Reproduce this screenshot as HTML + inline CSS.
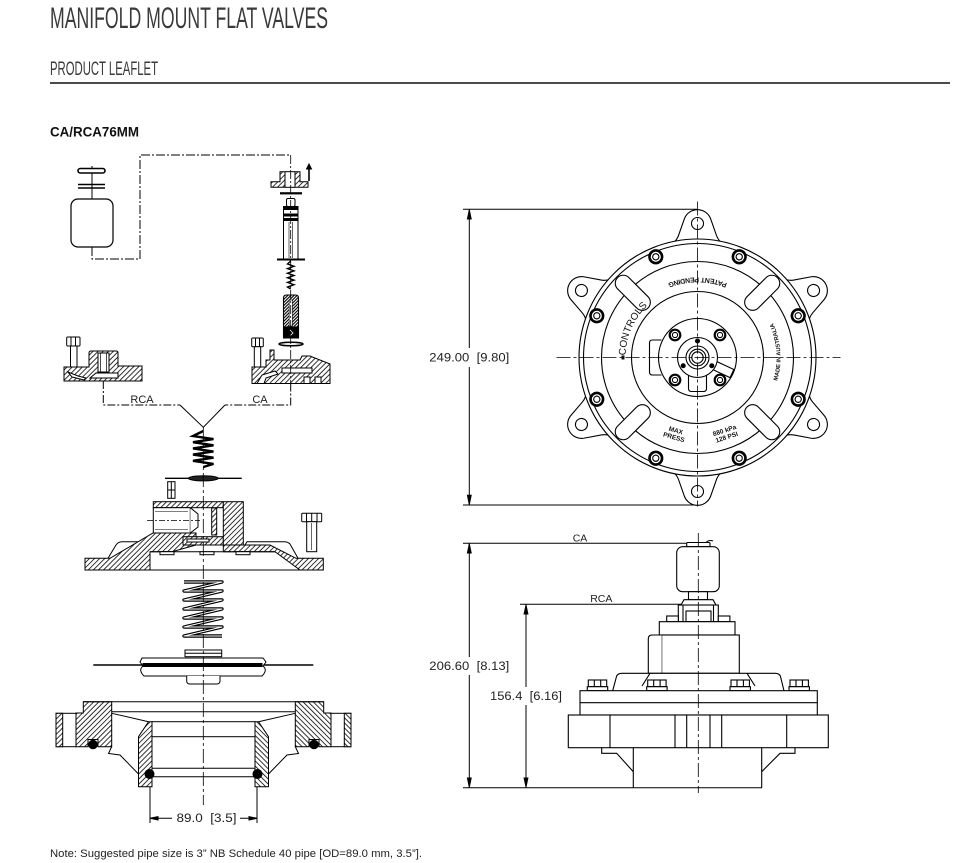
<!DOCTYPE html>
<html><head><meta charset="utf-8"><style>
html,body{margin:0;padding:0;background:#fff;}
svg{display:block;}
</style></head><body>
<svg width="968" height="863" viewBox="0 0 968 863" xmlns="http://www.w3.org/2000/svg" font-family="'Liberation Sans', sans-serif">
<defs>
 <pattern id="h" width="3.6" height="3.6" patternUnits="userSpaceOnUse" patternTransform="rotate(45)">
  <rect width="3.6" height="3.6" fill="#fff"/>
  <line x1="1" y1="0" x2="1" y2="3.6" stroke="#000" stroke-width="0.8"/>
 </pattern>
 <pattern id="hd" width="2.2" height="2.2" patternUnits="userSpaceOnUse" patternTransform="rotate(45)">
  <rect width="2.2" height="2.2" fill="#fff"/>
  <line x1="1" y1="0" x2="1" y2="2.2" stroke="#000" stroke-width="1.1"/>
 </pattern>
 <path id="pb" d="M-80,0 A80,80 0 0 0 80,0"/>
 <path id="cl" d="M0,72 A72,72 0 1 1 0,-72 A72,72 0 1 1 0,72"/>
 <path id="mr" d="M0,83 A83,83 0 1 0 0,-83 A83,83 0 1 0 0,83"/>
 <g id="lug">
  <path d="M-30,-112 Q-22,-114 -19,-122 L-13,-139 A14,14 0 0 1 13,-139 L19,-122 Q22,-114 30,-112" fill="#fff"/>
  <circle cx="0" cy="-134" r="6" fill="#fff"/>
 </g>
 <g id="bolt">
  <circle cx="0" cy="-109" r="6.3" stroke-width="2.6" fill="#fff"/>
  <circle cx="0" cy="-109" r="3.1" fill="#fff"/>
 </g>
 <g id="fb">
  <rect x="0" y="0" width="18.4" height="6.7" fill="#fff"/>
  <line x1="6" y1="0" x2="6" y2="6.7"/><line x1="12.4" y1="0" x2="12.4" y2="6.7"/>
  <rect x="-1" y="6.7" width="20.4" height="4" fill="#fff"/>
 </g>
</defs>

<!-- HEADER -->
<text x="50" y="28" font-size="30" fill="#3a3a3a" textLength="278" lengthAdjust="spacingAndGlyphs">MANIFOLD MOUNT FLAT VALVES</text>
<text x="50" y="75" font-size="19" fill="#3a3a3a" textLength="108" lengthAdjust="spacingAndGlyphs">PRODUCT LEAFLET</text>
<line x1="50" y1="83" x2="950" y2="83" stroke="#111" stroke-width="1.4"/>
<text x="50" y="136.5" font-size="14" font-weight="bold" fill="#111" textLength="89" lengthAdjust="spacingAndGlyphs">CA/RCA76MM</text>

<!-- LEFT EXPLODED VIEW -->
<g stroke="#000" stroke-width="1" fill="none">
 <path d="M92,247 V259 H140 V155 H290.7" stroke-dasharray="9 2 2 2"/>
 <line x1="92" y1="166" x2="92" y2="199"/>
 <rect x="78" y="168.5" width="27" height="4.5" rx="2.2" stroke-width="1.6" fill="#fff"/>
 <line x1="78" y1="184.5" x2="105" y2="184.5" stroke-width="1.6"/>
 <line x1="78" y1="188" x2="105" y2="188" stroke-width="1.6"/>
 <rect x="71" y="199" width="42" height="48" rx="7" fill="#fff" stroke-width="1.2"/>

 <path d="M271,187.3 V181.7 H280 V171.7 H285 V187.3 Z M295,187.3 V171.7 H300 V181.7 H308 V187.3 Z" fill="url(#h)"/>
 <line x1="285" y1="171.7" x2="295" y2="171.7"/>
 <line x1="285" y1="187.3" x2="295" y2="187.3"/>
 <line x1="309" y1="181" x2="309" y2="168" stroke-width="1.6"/>
 <path d="M306.5,169 L309,164 L311.5,169 Z" fill="#000"/>
 <rect x="280" y="192.2" width="22" height="2.2" fill="#000" stroke="none"/>

 <rect x="286.5" y="198.5" width="8.5" height="8" rx="1.5" fill="#fff"/>
 <rect x="283.5" y="206.5" width="14.5" height="53" fill="#fff"/>
 <rect x="283.5" y="207" width="14.5" height="2.5" fill="#000"/>
 <rect x="283.5" y="214" width="14.5" height="2" fill="#000"/>
 <rect x="283.5" y="218.5" width="14.5" height="2" fill="#000"/>
 <line x1="289" y1="222" x2="289" y2="258" stroke-width="0.6"/>
 <line x1="292.5" y1="222" x2="292.5" y2="258" stroke-width="0.6"/>
 <line x1="277" y1="259.5" x2="305" y2="259.5" stroke-width="2"/>

 <polyline points="290.7,261 287.5,264 294,266.3 287.5,268.6 294,270.9 287.5,273.2 294,275.5 287.5,277.8 294,280.1 287.5,282.4 294,284.7 287.5,287 290.7,289" stroke-width="1.4"/>

 <path d="M283.5,298 Q283.5,295 286.5,295 H295.5 Q298.5,295 298.5,298 V338 H283.5 Z" fill="url(#hd)" stroke-width="1.1"/>
 <rect x="289.2" y="300" width="3.2" height="26" fill="#fff" stroke-width="0.6"/>
 <rect x="283.5" y="327" width="15" height="11" fill="#000"/>
 <path d="M290,330 l3,3 l-3,3" stroke="#fff" stroke-width="0.8"/>
 <ellipse cx="291" cy="344" rx="12" ry="1.8" stroke-width="1.5" fill="#fff"/>

 <rect x="251.7" y="338" width="11.6" height="8.7" rx="1" fill="#fff"/>
 <line x1="255.5" y1="338" x2="255.5" y2="346.7"/><line x1="259.5" y1="338" x2="259.5" y2="346.7"/>
 <rect x="254.3" y="346.7" width="6.4" height="20.5" fill="#fff"/>
 <path d="M252,383.5 V367 H266 V360 H270 V350 H274 V360 H300 L302,356 H310 L330,364 V383.5 Z" fill="url(#h)"/>
 <path d="M257,383.5 L262,375 L275,371 L278,374 L266,378 L264,383.5 Z" fill="#fff"/>
 <rect x="282" y="368" width="30" height="5" fill="#fff"/>
 <rect x="304" y="377" width="6" height="6.5" fill="#fff"/>
 <rect x="315" y="377" width="6" height="6.5" fill="#fff"/>

 <rect x="66.7" y="337" width="13.3" height="9" rx="1" fill="#fff"/>
 <line x1="71" y1="337" x2="71" y2="346"/><line x1="75.5" y1="337" x2="75.5" y2="346"/>
 <rect x="70.5" y="346" width="6.5" height="21" fill="#fff"/>
 <path d="M64,381 V367 H89 V353 Q89,351 91,351 H116 Q118,351 118,353 V366 H142 V381 Z" fill="url(#h)"/>
 <rect x="98" y="353" width="11" height="19" fill="#fff"/>
 <line x1="100.5" y1="353" x2="100.5" y2="372" stroke-width="0.7"/>
 <line x1="106.5" y1="353" x2="106.5" y2="372" stroke-width="0.7"/>
 <path d="M90,378 H118 V373 H96 Z" fill="#fff"/>
 <path d="M68,372 L78,376 L86,378 L84,380 L72,377 Z" fill="#fff"/>

 <line x1="290.7" y1="155" x2="290.7" y2="383.5" stroke-dasharray="9 2 2 2" stroke-width="0.8"/>

 <path d="M103.3,381 V405 H180" stroke-dasharray="8 2 2 2"/>
 <path d="M290.7,383.5 V405 H225" stroke-dasharray="8 2 2 2"/>
 <path d="M180,405 L203.3,427.3 L225,405"/>

 <polyline points="203.3,431 193,436 213.5,439.1 193,442.2 213.5,445.3 193,448.4 213.5,451.5 193,454.6 213.5,457.7 193,460.8 213.5,463.9 203.3,467" stroke-width="2.4"/>

 <line x1="165" y1="478.3" x2="241.7" y2="478.3" stroke-width="1.4"/>
 <ellipse cx="203.3" cy="478.3" rx="15" ry="2.6" fill="#222"/>
 <rect x="167.7" y="481.7" width="7.3" height="16.6" fill="#fff"/>
 <line x1="171.3" y1="481.7" x2="171.3" y2="498.3"/>
 <line x1="167.7" y1="490" x2="175" y2="490"/>

 <path d="M108,558.3 L116,545 Q118,541.7 122,541.7 H153" fill="#fff"/>
 <path d="M245,545 L247,541.7 H284 Q288,541.7 290,544 L298,558.3" fill="#fff"/>
 <path d="M85,570 H150 V551.7 H172 L196,545 V533 H153 L110,558.3 H85 Z" fill="url(#h)"/>
 <rect x="153.3" y="501.7" width="70" height="6" fill="url(#h)"/>
 <rect x="153.3" y="507.7" width="37" height="25.3" fill="#fff"/>
 <path d="M190.3,507.7 L198,514 L198,527 L190.3,533" fill="#fff"/>
 <line x1="155" y1="511.5" x2="188" y2="511.5" stroke-width="0.6"/>
 <line x1="155" y1="529.5" x2="188" y2="529.5" stroke-width="0.6"/>
 <line x1="147" y1="520.5" x2="200" y2="520.5" stroke-dasharray="6 2 2 2" stroke-width="0.7"/>
 <rect x="211.7" y="508" width="5" height="27" fill="url(#h)"/>
 <rect x="183" y="536.7" width="40.3" height="8.3" fill="url(#h)"/>
 <rect x="187" y="539" width="22" height="3" fill="#fff"/>
 <rect x="223.3" y="501.7" width="20" height="43.3" fill="url(#h)"/>
 <path d="M243.3,545 H270 L296,558.3 H323.3 V570 H300 L275,551.7 H223.3 V545 Z" fill="url(#h)"/>
 <line x1="85" y1="570" x2="323.3" y2="570"/>
 <line x1="150" y1="551.7" x2="275" y2="551.7"/>
 <rect x="160" y="551.7" width="14" height="3" fill="#fff"/>
 <rect x="200" y="551.7" width="14" height="3" fill="#fff"/>
 <rect x="236" y="551.7" width="14" height="3" fill="#fff"/>

 <rect x="301.7" y="513.3" width="20" height="8.4" rx="1" fill="#fff"/>
 <line x1="306.5" y1="513.3" x2="306.5" y2="521.7"/><line x1="311.7" y1="513.3" x2="311.7" y2="521.7"/><line x1="317" y1="513.3" x2="317" y2="521.7"/>
 <rect x="306.7" y="521.7" width="10" height="30" fill="#fff"/>
 <line x1="311.7" y1="523" x2="311.7" y2="550" stroke-width="0.6"/>

 <path d="M184,582 H222 L184,591 H222 L184,600 H222 L184,609 H222 L184,618 H222 L184,627 H222 L184,636 H222" stroke-width="3.4" stroke-linejoin="round"/>
 <path d="M184,582 H222 L184,591 H222 L184,600 H222 L184,609 H222 L184,618 H222 L184,627 H222 L184,636 H222" stroke="#fff" stroke-width="1.1" stroke-linejoin="round"/>

 <line x1="93.3" y1="665" x2="313.3" y2="665" stroke-width="1.4"/>
 <path d="M142,658 H263 L266,662 L263,666 Q268,670 262,676 H144 Q138,670 143,666 L140,662 Z" fill="#fff"/>
 <rect x="143" y="663.5" width="119" height="3" fill="#000"/>
 <rect x="185" y="650" width="36.7" height="6.7" fill="#fff"/>
 <line x1="185" y1="653.3" x2="221.7" y2="653.3"/>
 <path d="M186.7,676 V681 Q186.7,684 190,684 H216.7 Q220,684 220,681 V676" fill="#fff"/>

 <g id="vb">
  <path d="M83.3,701.7 H111.7 V746.7 H98 V739.5 H88 V746.7 H76 V713 H83.3 Z" fill="url(#h)"/>
  <circle cx="93" cy="744.5" r="4.3" fill="#000"/>
  <rect x="56" y="713.3" width="20" height="33.4"/>
  <rect x="56" y="713.3" width="6.7" height="33.4" fill="url(#h)"/>
  <line x1="111.7" y1="713.3" x2="148.5" y2="721.7"/>
  <path d="M111.7,746.7 L108.5,753.5 L120,755 L138.5,774"/>
  <path d="M138.5,736.7 L148.5,721.7 H152 V786.7 H138.5 Z" fill="url(#h)"/>
  <circle cx="149.5" cy="774" r="4.5" fill="#000"/>
  <line x1="150" y1="786.7" x2="150" y2="823"/>
 </g>
 <use href="#vb" transform="translate(407,0) scale(-1,1)"/>
 <line x1="83.3" y1="701.7" x2="323.7" y2="701.7"/>
 <line x1="111.7" y1="711.7" x2="295.3" y2="711.7"/>
 <rect x="152" y="721.7" width="103" height="15"/>
 <line x1="152" y1="768.3" x2="255" y2="768.3"/>
 <line x1="152" y1="776.7" x2="255" y2="776.7"/>

 <line x1="203.3" y1="427" x2="203.3" y2="805" stroke-dasharray="14 3 3 3" stroke-width="0.8"/>

 <line x1="150" y1="818.3" x2="172" y2="818.3"/>
 <line x1="240" y1="818.3" x2="257" y2="818.3"/>
 <path d="M150,818.3 L158,816.6 L158,820 Z" fill="#000"/>
 <path d="M257,818.3 L249,816.6 L249,820 Z" fill="#000"/>
</g>
<g fill="#222" font-size="11">
 <text x="142" y="403" text-anchor="middle">RCA</text>
 <text x="260" y="403" text-anchor="middle">CA</text>
 <text x="206.5" y="822" text-anchor="middle" font-size="11.5" textLength="60" lengthAdjust="spacingAndGlyphs" xml:space="preserve">89.0&#160;&#160;[3.5]</text>
</g>

<!-- TOP VIEW -->
<g stroke="#000" stroke-width="1" fill="none">
 <line x1="463" y1="209.3" x2="697" y2="209.3"/>
 <line x1="463" y1="505" x2="697" y2="505"/>
 <line x1="469.3" y1="209.3" x2="469.3" y2="348"/>
 <line x1="469.3" y1="367" x2="469.3" y2="505"/>
 <path d="M469.3,209.8 L467.4,219 L471.2,219 Z" fill="#000"/>
 <path d="M469.3,504.5 L467.4,495.3 L471.2,495.3 Z" fill="#000"/>
</g>
<text x="469.3" y="361.5" font-size="11.5" fill="#222" text-anchor="middle" textLength="80" lengthAdjust="spacingAndGlyphs" xml:space="preserve">249.00&#160;&#160;[9.80]</text>

<g transform="translate(697.5,357.5)" stroke="#000" stroke-width="1.1" fill="none">
 <use href="#lug"/>
 <use href="#lug" transform="rotate(60)"/>
 <use href="#lug" transform="rotate(120)"/>
 <use href="#lug" transform="rotate(180)"/>
 <use href="#lug" transform="rotate(240)"/>
 <use href="#lug" transform="rotate(300)"/>
 <circle r="118.5" fill="#fff"/>
 <circle r="114"/>
 <circle r="96"/>
 <circle r="66"/>
 <rect x="-8" y="-113" width="16" height="43" rx="8" fill="#fff" transform="rotate(45)"/>
 <rect x="-8" y="-113" width="16" height="43" rx="8" fill="#fff" transform="rotate(135)"/>
 <rect x="-8" y="-113" width="16" height="43" rx="8" fill="#fff" transform="rotate(225)"/>
 <rect x="-8" y="-113" width="16" height="43" rx="8" fill="#fff" transform="rotate(315)"/>
 <use href="#bolt" transform="rotate(22.5)"/>
 <use href="#bolt" transform="rotate(67.5)"/>
 <use href="#bolt" transform="rotate(112.5)"/>
 <use href="#bolt" transform="rotate(157.5)"/>
 <use href="#bolt" transform="rotate(202.5)"/>
 <use href="#bolt" transform="rotate(247.5)"/>
 <use href="#bolt" transform="rotate(292.5)"/>
 <use href="#bolt" transform="rotate(337.5)"/>

 <g stroke="none" fill="#111" font-weight="bold">
  <g transform="rotate(180)"><text font-size="7"><textPath href="#pb" startOffset="50%" text-anchor="middle">PATENT PENDING</textPath></text></g>
  <text font-size="10" font-weight="normal"><textPath href="#cl" startOffset="115">CONTROLS</textPath></text>
  <rect x="-76" y="-2" width="3" height="4"/>
  <text font-size="5.8"><textPath href="#mr" startOffset="136" text-anchor="middle">MADE IN AUSTRALIA</textPath></text>
  <text transform="translate(-22.5,76) rotate(16)" font-size="6.5" text-anchor="middle"><tspan x="0" y="-1">MAX</tspan><tspan x="0" y="6">PRESS</tspan></text>
  <text transform="translate(28,76) rotate(-18)" font-size="6.5" text-anchor="middle"><tspan x="0" y="-1">880 kPa</tspan><tspan x="0" y="6">128 PSI</tspan></text>
 </g>

 <path d="M-36,-17.5 H-45 Q-48,-17.5 -48,-14.5 V14.5 Q-48,17.5 -45,17.5 H-36"/>
 <circle r="39" fill="#fff"/>
 <path d="M-9,17.5 V31 Q-9,34 -6,34 H6 Q9,34 9,31 V17.5"/>
 <rect x="17" y="-4.5" width="21" height="9" transform="rotate(25)"/>
 <circle cx="-22.5" cy="-22.5" r="5.3" stroke-width="2.2" fill="#fff"/><circle cx="-22.5" cy="-22.5" r="2.6"/>
 <circle cx="22.5" cy="-22.5" r="5.3" stroke-width="2.2" fill="#fff"/><circle cx="22.5" cy="-22.5" r="2.6"/>
 <circle cx="-22.5" cy="22.5" r="5.3" stroke-width="2.2" fill="#fff"/><circle cx="-22.5" cy="22.5" r="2.6"/>
 <circle cx="22.5" cy="22.5" r="5.3" stroke-width="2.2" fill="#fff"/><circle cx="22.5" cy="22.5" r="2.6"/>
 <circle r="20" fill="#fff"/>
 <circle r="11.5"/>
 <circle r="8.3"/>
 <circle r="5.7"/>
 <circle cx="0" cy="-16.5" r="2" fill="#000"/>
 <circle cx="-14.3" cy="8.25" r="2" fill="#000"/>
 <circle cx="14.3" cy="8.25" r="2" fill="#000"/>

 <line x1="-141" y1="0" x2="143" y2="0" stroke-width="0.8" stroke-dasharray="14 3 3 3"/>
 <line x1="0" y1="-156" x2="0" y2="149" stroke-width="0.8" stroke-dasharray="14 3 3 3"/>
</g>

<!-- SIDE VIEW -->
<g stroke="#000" stroke-width="1" fill="none">
 <line x1="463" y1="543.3" x2="710" y2="543.3"/>
 <line x1="520" y1="604.3" x2="683" y2="604.3"/>
 <line x1="463" y1="787.7" x2="762" y2="787.7"/>
 <line x1="469.3" y1="543.3" x2="469.3" y2="657"/>
 <line x1="469.3" y1="675" x2="469.3" y2="787.7"/>
 <path d="M469.3,543.8 L467.4,553 L471.2,553 Z" fill="#000"/>
 <path d="M469.3,787.2 L467.4,778 L471.2,778 Z" fill="#000"/>
 <line x1="526" y1="604.3" x2="526" y2="687"/>
 <line x1="526" y1="705" x2="526" y2="787.7"/>
 <path d="M526,604.8 L524.1,614 L527.9,614 Z" fill="#000"/>
 <path d="M526,787.2 L524.1,778 L527.9,778 Z" fill="#000"/>

 <g stroke-width="1.1">
  <rect x="686.7" y="542.5" width="23.3" height="4.2" rx="1" fill="#fff"/>
  <path d="M706,542.5 q3,-3 7,-1.5"/>
  <rect x="676.7" y="546.7" width="42.6" height="45" rx="6" fill="#fff"/>
  <rect x="688.5" y="591.7" width="19" height="8" fill="#fff"/>
  <path d="M681,605 L684,599.7 H713 L716,605 Z" fill="#fff"/>
  <rect x="678.3" y="605" width="40" height="16.7" fill="#fff"/>
  <line x1="683" y1="605" x2="683" y2="621.7"/>
  <line x1="713.5" y1="605" x2="713.5" y2="621.7"/>
  <rect x="686" y="611" width="25" height="10.7"/>
  <rect x="666.7" y="616" width="11.6" height="5.7" fill="#fff"/>
  <rect x="718.3" y="616" width="11.6" height="5.7" fill="#fff"/>
  <rect x="659.3" y="621.7" width="75.7" height="13.3" fill="#fff"/>
  <rect x="661.7" y="635" width="77.6" height="38.3" fill="#fff"/>
  <path d="M661.7,635 H652 Q648.3,635 648.3,639 V673.3 H661.7" fill="#fff"/>
  <path d="M612.7,690.7 L616.5,676.5 Q617.5,673.3 622,673.3 H775 Q779.5,673.3 780.5,676.5 L784,690.7" fill="#fff"/>
  <line x1="650" y1="673.3" x2="642" y2="686"/>
  <line x1="747" y1="673.3" x2="755" y2="686"/>
  <use href="#fb" x="588.3" y="680"/>
  <use href="#fb" x="647.7" y="680"/>
  <use href="#fb" x="731" y="680"/>
  <use href="#fb" x="790" y="680"/>
  <rect x="580" y="690.7" width="237.3" height="24.3" fill="#fff"/>
  <line x1="580" y1="702.7" x2="817.3" y2="702.7"/>
  <rect x="568.3" y="715" width="260" height="32.7" fill="#fff"/>
  <line x1="610" y1="715" x2="610" y2="747.7"/>
  <line x1="675" y1="715" x2="675" y2="747.7"/>
  <line x1="686.7" y1="715" x2="686.7" y2="747.7"/>
  <line x1="710" y1="715" x2="710" y2="747.7"/>
  <line x1="721.7" y1="715" x2="721.7" y2="747.7"/>
  <line x1="786.7" y1="715" x2="786.7" y2="747.7"/>
  <path d="M601.7,747.7 V753.3 H616.7 L633.3,771.7"/>
  <path d="M795,747.7 V753.3 H780 L761.7,771.7"/>
  <line x1="633.3" y1="747.7" x2="633.3" y2="787.7"/>
  <line x1="761.7" y1="747.7" x2="761.7" y2="787.7"/>
 </g>
 <line x1="698.3" y1="533" x2="698.3" y2="793" stroke-width="0.8" stroke-dasharray="14 3 3 3"/>
</g>
<g fill="#222" font-size="11.5">
 <text x="580" y="541.5" text-anchor="middle" font-size="10.5">CA</text>
 <text x="601.3" y="602" text-anchor="middle" font-size="10.5">RCA</text>
 <text x="469.3" y="670" text-anchor="middle" textLength="80" lengthAdjust="spacingAndGlyphs" xml:space="preserve">206.60&#160;&#160;[8.13]</text>
 <text x="526" y="700" text-anchor="middle" textLength="72" lengthAdjust="spacingAndGlyphs" xml:space="preserve">156.4&#160;&#160;[6.16]</text>
</g>

<!-- FOOTER -->
<text x="50" y="857" font-size="11" fill="#222" textLength="372" lengthAdjust="spacingAndGlyphs">Note: Suggested pipe size is 3&#8221; NB Schedule 40 pipe [OD=89.0 mm, 3.5&#8221;].</text>
</svg>
</body></html>
